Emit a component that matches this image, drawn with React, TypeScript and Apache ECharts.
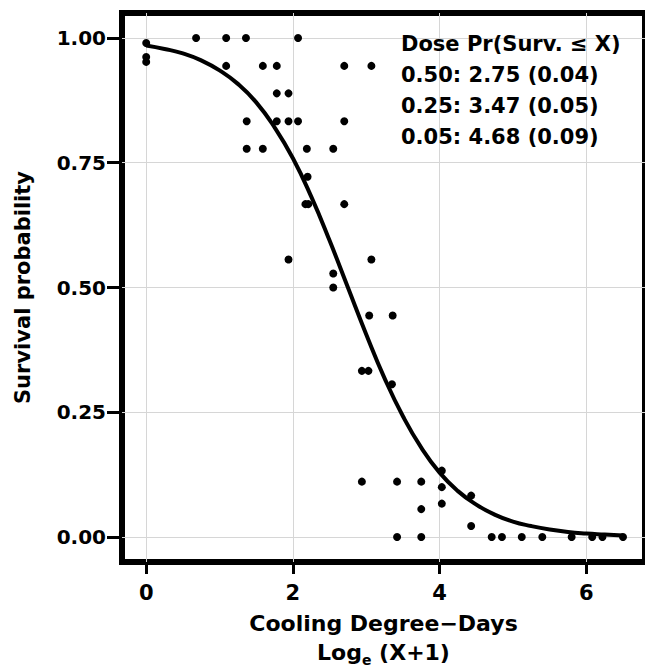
import React, { useEffect, useRef } from "react";
import * as echarts from "echarts";

// Observed survival proportions (x = Log_e(CDD+1), y = survival probability)
const pointX = [
  0, 0, 0,
  0.68, 1.09, 1.36, 2.07,
  1.09, 1.59, 1.78, 2.7, 3.07,
  1.78, 1.94,
  1.37, 1.78, 1.94, 2.07, 2.7,
  1.37, 1.59, 2.19, 2.55,
  2.2,
  2.17, 2.21, 2.7,
  1.94, 3.07,
  2.55, 2.55,
  3.04, 3.36,
  2.94, 3.03,
  3.35,
  4.03,
  2.94, 3.42, 3.75,
  4.03, 4.43, 4.03, 3.75, 4.43,
  3.42, 3.75, 4.71, 4.85, 5.12, 5.4, 5.8, 6.08, 6.22, 6.5,
];
const pointY = [
  0.99, 0.962, 0.952,
  1.0, 1.0, 1.0, 1.0,
  0.944, 0.944, 0.944, 0.944, 0.944,
  0.889, 0.889,
  0.833, 0.833, 0.833, 0.833, 0.833,
  0.778, 0.778, 0.778, 0.778,
  0.722,
  0.667, 0.667, 0.667,
  0.556, 0.556,
  0.528, 0.5,
  0.444, 0.444,
  0.333, 0.333,
  0.306,
  0.133,
  0.111, 0.111, 0.111,
  0.1, 0.083, 0.067, 0.056, 0.022,
  0, 0, 0, 0, 0, 0, 0, 0, 0, 0,
];

// Fitted survival curve
const curveX = [
  0, 0.25, 0.5, 0.75, 1, 1.25, 1.5, 1.75, 2, 2.25, 2.5, 2.75, 3, 3.25,
  3.5, 3.75, 4, 4.25, 4.5, 4.75, 5, 5.25, 5.5, 5.75, 6, 6.25, 6.5,
];
const curveY = [
  0.985, 0.978, 0.969, 0.955, 0.935, 0.908, 0.871, 0.821, 0.759, 0.682,
  0.594, 0.5, 0.406, 0.318, 0.242, 0.179, 0.129, 0.092, 0.065, 0.045,
  0.031, 0.022, 0.015, 0.01, 0.007, 0.005, 0.003,
];

const xTickValues = [0, 2, 4, 6];
const yTickValues = [0, 0.25, 0.5, 0.75, 1];

const doseHeader = "Dose Pr(Surv. \u2264 X)";
const doseLevels = ["0.50", "0.25", "0.05"];
const doseEstimates = ["2.75", "3.47", "4.68"];
const doseSE = ["0.04", "0.05", "0.09"];

const FONT = "DejaVu Sans";

export default function App() {
  const ref = useRef<HTMLDivElement>(null);

  useEffect(() => {
    document.body.style.margin = "0";
    if (!ref.current) return;
    const chart = echarts.init(ref.current, undefined, { renderer: "svg" });

    const points = pointX.map((x, i) => [x, pointY[i]]);
    const curve = curveX.map((x, i) => [x, curveY[i]]);
    const annotation = [
      doseHeader,
      ...doseLevels.map((l, i) => `${l}: ${doseEstimates[i]} (${doseSE[i]})`),
    ].join("\n");

    chart.setOption({
      animation: false,
      backgroundColor: "#ffffff",
      textStyle: { fontFamily: FONT },
      grid: {
        left: 122,
        top: 13,
        width: 523,
        height: 553,
        show: true,
        borderColor: "#000000",
        borderWidth: 6,
        backgroundColor: "transparent",
        containLabel: false,
      },
      xAxis: {
        type: "value",
        min: -0.33,
        max: 6.8,
        axisLine: { show: false, onZero: false },
        axisTick: {
          show: true,
          inside: false,
          length: 12,
          lineStyle: { color: "#000", width: 3 },
          customValues: xTickValues,
        },
        axisLabel: {
          customValues: xTickValues,
          margin: 20,
          fontSize: 21,
          fontWeight: "bold",
          fontFamily: FONT,
          color: "#000",
          formatter: (v: number) => String(v),
        },
        splitLine: { show: true, lineStyle: { color: "#d6d6d6", width: 1 } },
        name: "{a|Cooling Degree\u2212Days}\n{a|Log}{sub|e}{a| (X+1)}",
        nameLocation: "middle",
        nameGap: 47,
        nameTextStyle: {
          fontFamily: FONT,
          color: "#000",
          rich: {
            a: {
              fontSize: 22,
              fontWeight: "bold",
              fontFamily: FONT,
              color: "#000",
              lineHeight: 29,
            },
            sub: {
              fontSize: 14,
              fontWeight: "bold",
              fontFamily: FONT,
              color: "#000",
              verticalAlign: "bottom",
              lineHeight: 14,
            },
          },
        },
      },
      yAxis: {
        type: "value",
        min: -0.05,
        max: 1.05,
        axisLine: { show: false, onZero: false },
        axisTick: {
          show: true,
          inside: false,
          length: 15,
          lineStyle: { color: "#000", width: 3 },
          customValues: yTickValues,
        },
        axisLabel: {
          customValues: yTickValues,
          margin: 16,
          fontSize: 20,
          fontWeight: "bold",
          fontFamily: FONT,
          color: "#000",
          formatter: (v: number) => v.toFixed(2),
        },
        splitLine: { show: true, lineStyle: { color: "#d6d6d6", width: 1 } },
        name: "Survival probability",
        nameLocation: "middle",
        nameGap: 89,
        nameTextStyle: {
          fontSize: 21,
          fontWeight: "bold",
          fontFamily: FONT,
          color: "#000",
        },
      },
      series: [
        {
          type: "line",
          data: curve,
          smooth: true,
          showSymbol: false,
          symbol: "none",
          lineStyle: { color: "#000", width: 4 },
          z: 2,
        },
        {
          type: "scatter",
          data: points,
          symbol: "circle",
          symbolSize: 8,
          itemStyle: { color: "#000", opacity: 1 },
          z: 3,
        },
      ],
      graphic: [
        {
          type: "text",
          left: 401,
          top: 28,
          style: {
            text: annotation,
            fontSize: 21,
            fontWeight: "bold",
            fontFamily: FONT,
            fill: "#000",
            lineHeight: 31,
          },
          z: 10,
        },
      ],
    });

    return () => {
      chart.dispose();
    };
  }, []);

  return <div ref={ref} style={{ width: 645, height: 672 }} />;
}
